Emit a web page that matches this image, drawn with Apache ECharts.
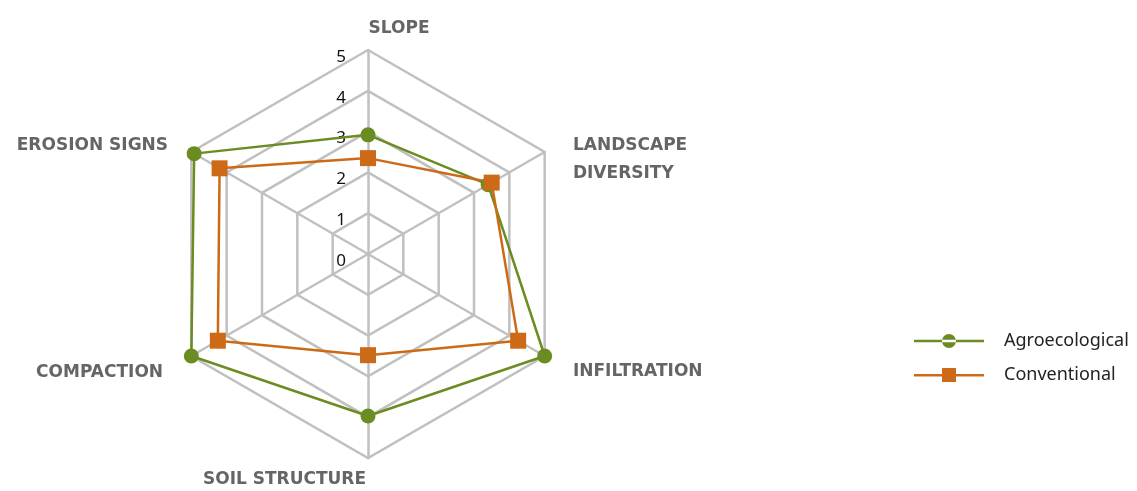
<!DOCTYPE html>
<html>
<head>
<meta charset="utf-8">
<script src="https://cdn.jsdelivr.net/npm/echarts@6/dist/echarts.min.js"></script>
<style>
  html, body { margin: 0; padding: 0; background: #fff; }
  #chart { width: 1137px; height: 491px; }
</style>
</head>
<body>
<div id="chart"></div>
<script>
  // indicators, counter-clockwise from the top
  var indicators = ['SLOPE', 'EROSION SIGNS', 'COMPACTION', 'SOIL STRUCTURE', 'INFILTRATION', 'LANDSCAPE\nDIVERSITY'];
  var agroecological = [2.92, 4.92, 5, 3.97, 5, 3.4];
  var conventional = [2.35, 4.2, 4.25, 2.48, 4.25, 3.5];
  var scaleMin = 0;
  var scaleMax = 5;

  // per-label nudges (excel puts these a bit off the spokes)
  var nameKeys = ['sl', 'er', 'co', 'so', 'inf', 'ld'];
  var nameFont = { fontFamily: 'DejaVu Sans', fontWeight: 'bold', fontSize: 17, color: '#646567' };
  var rich = {
    sl: Object.assign({ padding: [0, 0, 0, 62] }, nameFont),
    er: Object.assign({ padding: [0, 12, 0, 0] }, nameFont),
    co: Object.assign({ padding: [20, 17, 0, 0] }, nameFont),
    so: Object.assign({ padding: [0, 167, 0, 0] }, nameFont),
    inf: Object.assign({ padding: [18, 0, 0, 17] }, nameFont),
    ld: Object.assign({ padding: [0, 0, 0, 17], lineHeight: 28 }, nameFont)
  };

  var green = '#6b8c21';
  var orange = '#cd6a17';
  var grid = '#c0c0c0';

  var myChart = echarts.init(document.getElementById('chart'), null, { renderer: 'canvas' });

  myChart.setOption({
    animation: false,
    legend: {
      orient: 'vertical',
      left: 909,
      top: 327,
      itemWidth: 70,
      itemHeight: 14,
      itemGap: 16,
      textStyle: { fontFamily: 'Noto Sans', fontSize: 18, color: '#222', padding: [0, 0, 0, 15] },
      data: [
        { name: 'Agroecological', icon: 'path://M0,6h70v2.5h-70z M28,7.2a7,7 0 1,0 14,0a7,7 0 1,0 -14,0z' },
        { name: 'Conventional', icon: 'path://M0,6h70v2.5h-70z M28,0h14v14h-14z' }
      ]
    },
    radar: {
      center: [368, 254],
      radius: 204,
      startAngle: 90,
      splitNumber: 5,
      shape: 'polygon',
      nameGap: 13,
      axisName: {
        formatter: function (name) {
          var key = nameKeys[indicators.indexOf(name)];
          if (key === 'ld') {
            // blank first line pushes the two-line label down a bit
            return '{ld| }\n' + name.split('\n').map(function (s) { return '{ld|' + s + '}'; }).join('\n');
          }
          return '{' + key + '|' + name + '}';
        },
        rich: rich
      },
      indicator: indicators.map(function (name, i) {
        var ind = { name: name, min: scaleMin, max: scaleMax };
        if (i === 0) {
          ind.axisLabel = {
            show: true,
            fontFamily: 'Noto Sans',
            fontSize: 17,
            color: '#111',
            margin: 22,
            verticalAlign: 'top',
            lineHeight: 14
          };
        }
        return ind;
      }),
      axisLine: { lineStyle: { color: grid, width: 2.5 } },
      splitLine: { lineStyle: { color: grid, width: 2.5 } },
      splitArea: { show: false },
      axisTick: { show: false },
      axisLabel: { show: false }
    },
    series: [
      {
        name: 'Agroecological',
        type: 'radar',
        symbol: 'circle',
        symbolSize: 15,
        lineStyle: { color: green, width: 2.5 },
        itemStyle: { color: green },
        data: [{ name: 'Agroecological', value: agroecological }]
      },
      {
        name: 'Conventional',
        type: 'radar',
        symbol: 'rect',
        symbolSize: 16,
        lineStyle: { color: orange, width: 2.5 },
        itemStyle: { color: orange },
        data: [{ name: 'Conventional', value: conventional }]
      }
    ]
  });
</script>
</body>
</html>
